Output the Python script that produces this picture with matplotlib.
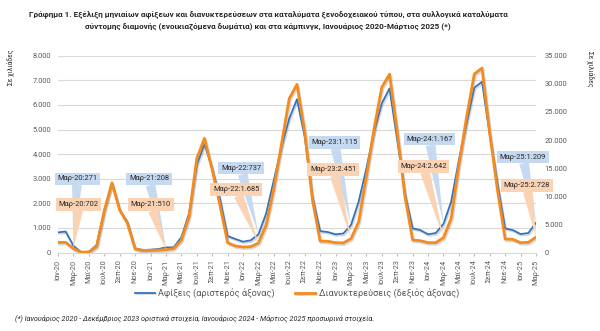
import matplotlib
matplotlib.use("Agg")
import matplotlib.pyplot as plt
import matplotlib.patheffects as pe

plt.rcParams['font.family'] = ['Roboto', 'DejaVu Sans']

# Month labels, Jan 2020 - Mar 2025
months = ['Ιαν', 'Φεβ', 'Μαρ', 'Απρ', 'Μαϊ', 'Ιουν', 'Ιουλ', 'Αυγ', 'Σεπ', 'Οκτ', 'Νοε', 'Δεκ']
years = ['20', '21', '22', '23', '24', '25']
labels = [f'{m}-{y}' for y in years for m in months][:63]

# Arrivals, thousands (left axis)
arrivals = [820, 850, 271, 20, 30, 300, 1700, 2840, 1730, 1250, 170, 100,
            115, 140, 208, 210, 620, 1590, 3560, 4400, 3420, 2200, 670, 550,
            440, 495, 737, 1590, 2950, 4300, 5450, 6230, 4700, 2270, 870, 830,
            740, 770, 1115, 2070, 3420, 4910, 6060, 6670, 4570, 2400, 980, 910,
            740, 790, 1167, 2070, 3760, 5250, 6700, 6940, 4780, 2810, 980, 910,
            750, 790, 1209]

# Overnight stays, thousands (right axis)
nights = [1800, 1800, 702, 60, 100, 1040, 7400, 12400, 7550, 5200, 620, 380,
          380, 440, 510, 680, 2200, 6370, 16750, 20300, 14700, 8450, 1750, 1160,
          980, 1040, 1685, 4890, 11400, 19400, 27400, 29900, 21500, 9340, 2040, 1990,
          1750, 1700, 2451, 5480, 13500, 22100, 29400, 31700, 21500, 9940, 2220, 2100,
          1750, 1750, 2642, 6080, 15560, 24150, 31750, 32800, 21200, 11100, 2400, 2340,
          1750, 1800, 2728]

# months that get a callout (March of each year)
callout_idx = [2, 14, 26, 38, 50, 62]

# where the callout boxes sit (month position, axis value)
blue_box_pos = [(2.5, 2990), (11.8, 2990), (23.75, 3430), (35.85, 4470), (48.2, 4610), (60.3, 3880)]
orange_box_pos = [(2.7, 8520), (12.05, 8520), (23.1, 11200), (35.7, 14770), (47.4, 15300), (60.8, 11910)]

BLUE = '#3173BD'
ORANGE = '#F38B1F'
BLUE_BOX = '#C5D9F0'
ORANGE_BOX = '#FAD3B5'
TXT = '#595959'


def fmt(v):
    return f'{v:,}'.replace(',', '.')


fig = plt.figure(figsize=(6, 3.31), dpi=100)
ax = fig.add_axes([58 / 600, 1 - 252.5 / 331, 478 / 600, 196.8 / 331])
ax2 = ax.twinx()

x = list(range(len(labels)))
shadow = [pe.SimpleLineShadow(offset=(0.8, -1.2), shadow_color='gray', alpha=0.3), pe.Normal()]
l1, = ax.plot(x, arrivals, color=BLUE, lw=1.3, path_effects=shadow,
              label='Αφίξεις (αριστερός άξονας)')
l2, = ax2.plot(x, nights, color=ORANGE, lw=2.0, path_effects=shadow,
               label='Διανυκτερεύσεις (δεξιός άξονας)')

ax.set_xlim(0, len(labels) - 1)
ax.set_ylim(0, 8000)
ax2.set_ylim(0, 35000)
ax.set_yticks(range(0, 8001, 1000))
ax2.set_yticks(range(0, 35001, 5000))
ax.set_yticklabels([fmt(v) for v in range(0, 8001, 1000)])
ax2.set_yticklabels([fmt(v) for v in range(0, 35001, 5000)])
ax.set_xticks(x[::2])
ax.set_xticklabels(labels[::2], rotation=90)

ax.grid(axis='y', color='#D9D9D9', lw=0.8)
ax.set_axisbelow(True)
for a in (ax, ax2):
    for s in a.spines.values():
        s.set_visible(False)
ax.spines['bottom'].set_visible(True)
ax.spines['bottom'].set_color('#D9D9D9')
ax.tick_params(axis='y', length=0, pad=5, labelsize=5.4, labelcolor=TXT)
ax2.tick_params(axis='y', length=0, pad=6, labelsize=5.4, labelcolor=TXT)
ax.tick_params(axis='x', length=2.5, color='#BFBFBF', pad=2.5, labelsize=5.3, labelcolor=TXT)

# data callouts
for k, i in enumerate(callout_idx):
    ax2.annotate(f'{labels[i]}:{fmt(arrivals[i])}', xy=(i, arrivals[i]), xycoords=ax.transData,
                 xytext=blue_box_pos[k], textcoords=ax.transData,
                 ha='center', va='center', fontsize=5.4, color='#262626', zorder=5,
                 bbox=dict(boxstyle='square,pad=0.35', fc=BLUE_BOX, ec='none'),
                 arrowprops=dict(arrowstyle='wedge,tail_width=1.3', fc=BLUE_BOX, ec='none',
                                 shrinkA=0, shrinkB=0))
for k, i in enumerate(callout_idx):
    ax2.annotate(f'{labels[i]}:{fmt(nights[i])}', xy=(i, nights[i]),
                 xytext=orange_box_pos[k], textcoords='data',
                 ha='center', va='center', fontsize=5.4, color='#262626', zorder=6,
                 bbox=dict(boxstyle='square,pad=0.35', fc=ORANGE_BOX, ec='none'),
                 arrowprops=dict(arrowstyle='wedge,tail_width=1.3', fc=ORANGE_BOX, ec='none',
                                 shrinkA=0, shrinkB=0))

fig.text(268 / 600, 1 - 15 / 331,
         'Γράφημα 1. Εξέλιξη μηνιαίων αφίξεων και διανυκτερεύσεων στα καταλύματα ξενοδοχειακού τύπου, στα συλλογικά καταλύματα',
         ha='center', va='center', fontsize=5.85, fontweight='bold', color='#262626')
fig.text(268 / 600, 1 - 27 / 331,
         'σύντομης διαμονής (ενοικιαζόμενα δωμάτια) και στα κάμπινγκ, Ιανουάριος 2020-Μάρτιος 2025 (*)',
         ha='center', va='center', fontsize=5.85, fontweight='bold', color='#262626')

fig.text(10.5 / 600, 1 - 67 / 331, 'Σε χιλιάδες', rotation=90, ha='center', va='center',
         fontsize=4.8, color='#262626')
fig.text(590 / 600, 1 - 69 / 331, 'Σε χιλιάδες', rotation=270, ha='center', va='center',
         fontsize=4.8, color='#262626')

fig.legend(handles=[l1, l2], loc='center', bbox_to_anchor=(297 / 600, 1 - 293 / 331),
           ncol=2, frameon=False, fontsize=6.6, handlelength=2.2, columnspacing=2.2,
           handletextpad=0.4, labelcolor=TXT)

fig.text(15 / 600, 1 - 318 / 331,
         '(*) Ιανουάριος 2020 - Δεκέμβριος 2023 οριστικά στοιχεία, Ιανουάριος 2024 - Μάρτιος 2025 προσωρινά στοιχεία.',
         ha='left', va='center', fontsize=5.2, style='italic', color='#262626')

fig.savefig('out.png', dpi=100)
